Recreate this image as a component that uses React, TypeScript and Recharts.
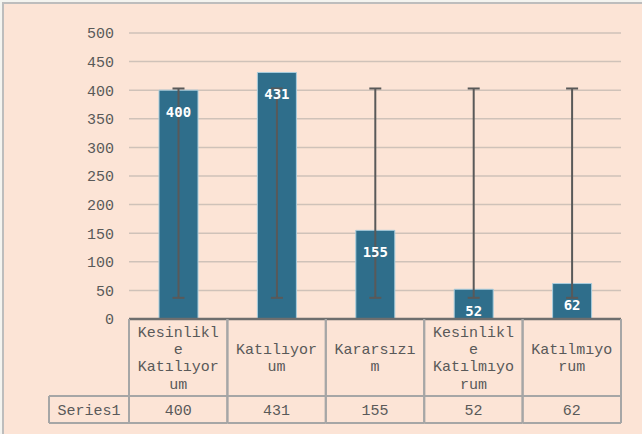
import { BarChart, Bar, XAxis, YAxis, CartesianGrid, ErrorBar, LabelList } from 'recharts';

const categories = ['Kesinlikle Katılıyorum', 'Katılıyorum', 'Kararsızım', 'Kesinlikle Katılmıyorum', 'Katılmıyorum'];
const series1 = [400, 431, 155, 52, 62];
// error bar ends (Excel standard deviation bars)
const errLow = [37, 37, 37, 37, 37];
const errHigh = [403, 403, 403, 403, 403];
const yTicks = [0, 50, 100, 150, 200, 250, 300, 350, 400, 450, 500];
const seriesName = 'Series1';

const data = categories.map((name, i) => ({
  name,
  value: series1[i],
  err: [series1[i] - errLow[i], errHigh[i] - series1[i]],
}));

const FONT = '"Liberation Mono", "Courier New", monospace';
const TEXT = '#595959';
const LINE = '#A6A6A6';

// Excel-like wrap: break at words, then hard break long words
function wrap(text: string, max: number) {
  const lines: string[] = [];
  for (const word of text.split(' ')) {
    let w = word;
    while (w.length > max) {
      lines.push(w.slice(0, max));
      w = w.slice(max);
    }
    if (w) lines.push(w);
  }
  return lines;
}

const TableTick = (props: any) => {
  const { x, y, payload, index, visibleTicksCount } = props;
  const count = visibleTicksCount || categories.length;
  const band = (621 - 129) / count;
  const left = x - band / 2;
  const right = x + band / 2;
  const catBottom = y + 77;
  const valBottom = catBottom + 27;
  const lines = wrap(payload.value, 9);
  const lh = 17.3;
  const mid = y + 77 / 2;
  const first = mid - ((lines.length - 1) * lh) / 2;
  return (
    <g>
      <line x1={left} y1={y} x2={left} y2={valBottom} stroke={LINE} strokeWidth={2} />
      <line x1={right} y1={y} x2={right} y2={valBottom} stroke={LINE} strokeWidth={2} />
      <line x1={left} y1={catBottom} x2={right} y2={catBottom} stroke={LINE} strokeWidth={2} />
      <line x1={left} y1={valBottom} x2={right} y2={valBottom} stroke={LINE} strokeWidth={2} />
      {lines.map((l, i) => (
        <text key={i} x={x} y={first + i * lh} dy="0.35em" textAnchor="middle" fontFamily={FONT} fontSize={15} fill={TEXT}>
          {l}
        </text>
      ))}
      <text x={x} y={catBottom + 13.5} dy="0.35em" textAnchor="middle" fontFamily={FONT} fontSize={15} fill={TEXT}>
        {series1[index]}
      </text>
      {index === 0 && (
        <g>
          <line x1={49} y1={catBottom} x2={left} y2={catBottom} stroke={LINE} strokeWidth={2} />
          <line x1={49} y1={valBottom} x2={left} y2={valBottom} stroke={LINE} strokeWidth={2} />
          <line x1={49} y1={catBottom} x2={49} y2={valBottom} stroke={LINE} strokeWidth={2} />
          <text x={(49 + left) / 2} y={catBottom + 13.5} dy="0.35em" textAnchor="middle" fontFamily={FONT} fontSize={15} fill={TEXT}>
            {seriesName}
          </text>
        </g>
      )}
    </g>
  );
};

const BarValue = (props: any) => {
  const { x, y, width, value } = props;
  return (
    <text x={x + width / 2} y={y + 22} dy="0.35em" textAnchor="middle" fontFamily='"DejaVu Sans Mono", monospace' fontWeight="bold" fontSize={14} fill="#FFFFFF">
      {value}
    </text>
  );
};

export default function App() {
  return (
    <div style={{ position: 'fixed', left: 0, top: 0, width: 642, height: 434, background: '#F4F4F0', overflow: 'hidden' }}>
      <div style={{ position: 'absolute', left: 2, top: 2, width: 700, height: 500, background: '#FCE4D6', borderLeft: '2px solid #BDBDBD', borderTop: '2px solid #BDBDBD' }} />
      <div style={{ position: 'absolute', left: 0, top: 0 }}>
        <BarChart width={642} height={434} data={data} margin={{ top: 33, right: 21, bottom: 0, left: 0 }} barSize={39}>
          <CartesianGrid vertical={false} stroke="#CFC2B9" strokeWidth={1.5} />
          <YAxis
            type="number"
            domain={[0, 500]}
            ticks={yTicks}
            allowDataOverflow
            width={129}
            axisLine={false}
            tickLine={false}
            tickSize={6}
            tickMargin={9}
            tick={{ fontFamily: FONT, fontSize: 15, fill: TEXT }}
          />
          <XAxis
            dataKey="name"
            height={115}
            interval={0}
            tickLine={false}
            tickSize={0}
            tickMargin={0}
            axisLine={{ stroke: '#6E6E6E', strokeWidth: 2.5 }}
            tick={<TableTick />}
          />
          <Bar dataKey="value" fill="#2F6E8B" stroke="#A9CDDD" strokeWidth={1} isAnimationActive={false}>
            <ErrorBar dataKey="err" width={6} stroke="#595959" strokeWidth={2} direction="y" />
            <LabelList dataKey="value" content={<BarValue />} />
          </Bar>
        </BarChart>
      </div>
    </div>
  );
}
